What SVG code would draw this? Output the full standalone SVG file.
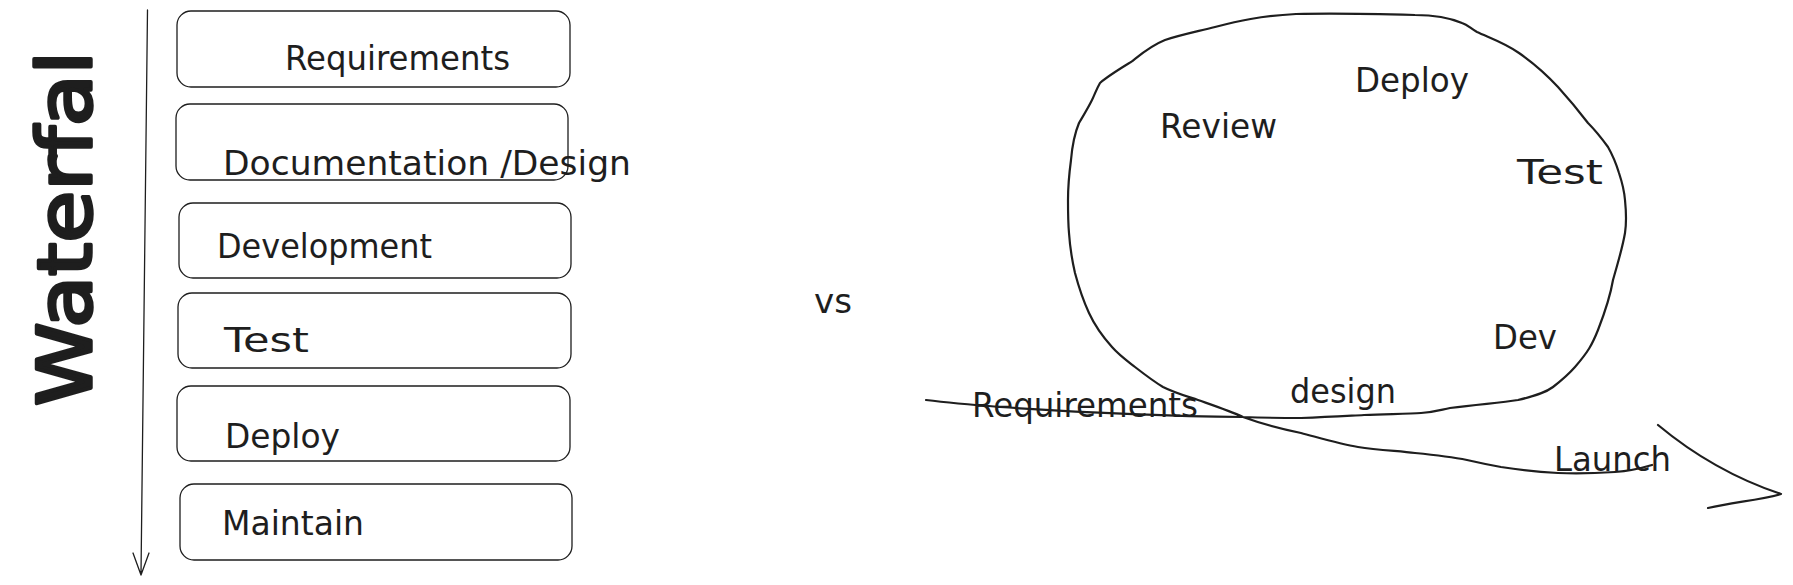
<svg xmlns="http://www.w3.org/2000/svg" width="1793" height="585" viewBox="0 0 1793 585">
<defs>
<style>
.bg{fill:#ffffff}
.box{fill:none;stroke:#1e1e1e;stroke-width:1.3}
.ln{fill:none;stroke:#1e1e1e;stroke-width:2.2;stroke-linecap:round;stroke-linejoin:round}
.thin{fill:none;stroke:#1e1e1e;stroke-width:1.3;stroke-linecap:round;stroke-linejoin:round}
.t{font-family:"DejaVu Sans","Liberation Sans",sans-serif;font-size:33px;fill:#1e1e1e}
.big{font-family:"DejaVu Sans","Liberation Sans",sans-serif;font-size:74px;fill:#1e1e1e;stroke:#1e1e1e;stroke-width:3.5;stroke-linejoin:round}
</style>
</defs>
<rect class="bg" x="0" y="0" width="1793" height="585"/>

<g id="title">
<text class="big" transform="translate(91,406) rotate(-90)" textLength="355" lengthAdjust="spacingAndGlyphs">Waterfal</text>
</g>

<g id="connectors">
<path id="timeline" class="thin" d="M147.5,10 L141,575 M133,553 L141,575 L149,553"/>
<path id="loop" class="ln" d="M926,400 C950,403 974,405 1000,407 C1060,411 1160,416 1243,417 C1270,418 1290,418 1301,418 C1330,417 1345,416 1364,415 C1390,414 1410,414 1421,413 C1435,412 1440,410 1450,408 C1480,404 1500,403 1518,400 C1535,396 1545,393 1553,387 C1562,380 1568,375 1575,367 C1588,352 1592,345 1598,330 C1605,312 1610,298 1613,280 C1618,262 1622,250 1625,233 C1627,220 1626,210 1625,200 C1624,188 1622,182 1619,173 C1615,160 1612,154 1608,147 C1600,136 1595,130 1588,123 C1578,110 1568,98 1558,87 C1545,73 1532,62 1519,53 C1505,43 1490,38 1477,32 C1470,28 1468,25 1462,23 C1448,17 1435,15 1415,15 C1380,14 1330,13 1296,14 C1260,16 1238,21 1215,27 C1195,32 1180,35 1165,40 C1150,46 1140,55 1131,62 C1118,70 1108,76 1100,83 C1096,90 1095,94 1092,100 C1087,110 1083,116 1079,123 C1074,135 1072,148 1071,160 C1069,175 1068,188 1068,200 C1068,212 1068,222 1069,233 C1070,248 1072,260 1075,273 C1079,288 1083,300 1089,313 C1095,326 1103,337 1112,347 C1119,355 1126,360 1135,367 C1144,374 1153,381 1163,387 C1175,393 1186,396 1198,400 C1215,406 1230,411 1243,417 C1262,424 1282,429 1301,433 C1320,438 1340,444 1358,447 C1378,450 1398,451 1415,453 C1435,455 1452,457 1467,460 C1480,463 1490,465 1501,467 C1520,470 1540,472 1558,473 C1580,474 1600,473 1615,472 C1630,471 1642,468 1652,465"/>
<path id="arrowhead" class="ln" d="M1658,425 C1700,460 1745,482 1781,494 C1760,500 1735,502 1708,508"/>
</g>

<g id="node-requirements">
<rect class="box" x="177" y="11" width="393" height="76" rx="14"/>
<text class="t" x="285" y="70" textLength="225" lengthAdjust="spacingAndGlyphs">Requirements</text>
</g>
<g id="node-documentation">
<rect class="box" x="176" y="104" width="392" height="76" rx="14"/>
<text class="t" x="223" y="175" textLength="408" lengthAdjust="spacingAndGlyphs">Documentation /Design</text>
</g>
<g id="node-development">
<rect class="box" x="179" y="203" width="392" height="75" rx="14"/>
<text class="t" x="217" y="258" textLength="215" lengthAdjust="spacingAndGlyphs">Development</text>
</g>
<g id="node-test">
<rect class="box" x="178" y="293" width="393" height="75" rx="14"/>
<text class="t" x="224" y="352" textLength="85" lengthAdjust="spacingAndGlyphs">Test</text>
</g>
<g id="node-deploy">
<rect class="box" x="177" y="386" width="393" height="75" rx="14"/>
<text class="t" x="225" y="448" textLength="115" lengthAdjust="spacingAndGlyphs">Deploy</text>
</g>
<g id="node-maintain">
<rect class="box" x="180" y="484" width="392" height="76" rx="14"/>
<text class="t" x="222" y="535" textLength="142" lengthAdjust="spacingAndGlyphs">Maintain</text>
</g>

<g id="vs">
<text class="t" x="814" y="313" textLength="38" lengthAdjust="spacingAndGlyphs">vs</text>
</g>

<g id="agile-review"><text class="t" x="1160" y="138" textLength="117" lengthAdjust="spacingAndGlyphs">Review</text></g>
<g id="agile-deploy"><text class="t" x="1355" y="92" textLength="114" lengthAdjust="spacingAndGlyphs">Deploy</text></g>
<g id="agile-test"><text class="t" x="1517" y="184" textLength="86" lengthAdjust="spacingAndGlyphs">Test</text></g>
<g id="agile-dev"><text class="t" x="1493" y="349" textLength="64" lengthAdjust="spacingAndGlyphs">Dev</text></g>
<g id="agile-design"><text class="t" x="1290" y="403" textLength="106" lengthAdjust="spacingAndGlyphs">design</text></g>
<g id="agile-requirements"><text class="t" x="972" y="417" textLength="226" lengthAdjust="spacingAndGlyphs">Requirements</text></g>
<g id="agile-launch"><text class="t" x="1554" y="471" textLength="117" lengthAdjust="spacingAndGlyphs">Launch</text></g>
</svg>
